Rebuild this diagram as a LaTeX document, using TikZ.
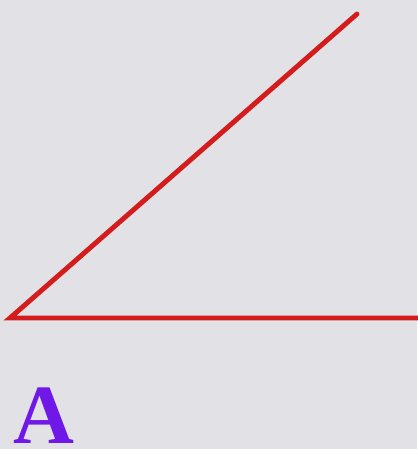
\documentclass[tikz,border=0pt]{standalone}
\usepackage{fontspec}
\setmainfont{Liberation Serif}
\definecolor{bgray}{RGB}{226,226,230}
\definecolor{rayred}{RGB}{212,28,28}
\definecolor{lblpurple}{RGB}{112,24,232}
\usetikzlibrary{positioning}
\tikzset{
  ray/.style={rayred, line width=2.8pt, line cap=round, line join=miter},
  lbl/.style={text=lblpurple, font=\fontsize{48}{48}\selectfont\bfseries, inner sep=0pt, text depth=0pt}
}
\begin{document}
\begin{tikzpicture}
  %% Background
  \fill[bgray] (0,0) rectangle (8.34,8.98);
  \useasboundingbox (0,0) rectangle (8.34,8.98);

  %% Angle
  \coordinate (vtx) at (0.2,2.62);
  \coordinate (top) at (7.14,8.70);
  \coordinate (rgt) at (8.40,2.62);
  \draw[ray] (top) -- (vtx) -- (rgt);

  %% Label
  \node[lbl, anchor=base] (lblA) at (0.88,0.12) {A};
\end{tikzpicture}
\end{document}
